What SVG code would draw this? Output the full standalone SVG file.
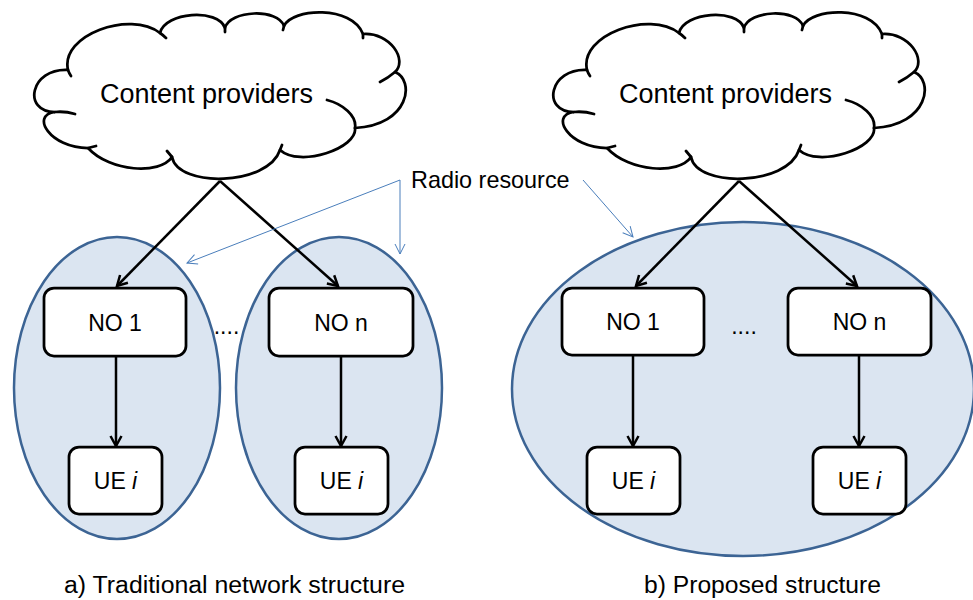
<svg xmlns="http://www.w3.org/2000/svg" width="973" height="600" viewBox="0 0 973 600">
<style>
text{font-family:"Liberation Sans",Arial,sans-serif;fill:#000}
.region{fill:#dbe5f1;stroke:#3c6494;stroke-width:2.5}
.cloud{fill:#fff;stroke:#000;stroke-width:2.75;stroke-linejoin:round}
.tail{fill:none;stroke:#000;stroke-width:2.75;stroke-linecap:round}
.box{fill:#fff;stroke:#000;stroke-width:2.75}
.conn{fill:none;stroke:#000;stroke-width:2.5}
.note{fill:none;stroke:#4a7ebb;stroke-width:1}
.lbl{font-size:23px;text-anchor:middle}
.title{font-size:27px;text-anchor:middle}
.cap{font-size:23px}
</style>
<defs>
<marker id="ah" viewBox="0 0 14 14" refX="12" refY="7" markerWidth="14" markerHeight="14" markerUnits="userSpaceOnUse" orient="auto">
<path d="M2,1.5 L12,7 L2,12.5" fill="none" stroke="#000" stroke-width="2.5"/>
</marker>
<marker id="bh" viewBox="0 0 12 12" refX="11" refY="6" markerWidth="12" markerHeight="12" markerUnits="userSpaceOnUse" orient="auto">
<path d="M1,1 L11,6 L1,11" fill="none" stroke="#4a7ebb" stroke-width="1"/>
</marker>
<g id="cloudShape">
<path class="cloud" d="M55,112 C22,112 30,68 68,70 C60,35 130,10 160,33 C165,12 218,8 225,28 C230,10 278,8 284,26 C292,8 352,5 363,34 C390,32 408,60 395,72 C415,80 410,125 355,128 C358,148 300,168 280,150 C268,186 178,188 172,157 C160,175 110,172 88,148 C50,148 30,115 55,112 Z"/>
<path class="tail" d="M55,112 Q65,111 75,114 M68,70 Q69,73 71,76 M160,33 Q163,35 166,38 M225,28 L225,32 M284,26 L283,30 M363,34 L363,38 M395,72 Q388,78 380,82 M355,128 C357,116 343,104 327,100 M280,150 L282,145 M172,157 L167,151 M88,148 L96,146"/>
</g>
</defs>

<g id="regions">
<ellipse id="region-a1" class="region" cx="117" cy="388" rx="103" ry="151"/>
<ellipse id="region-an" class="region" cx="339" cy="388" rx="103" ry="151"/>
<ellipse id="region-b" class="region" cx="743" cy="389" rx="231" ry="167"/>
</g>

<g id="cloud-a">
<use href="#cloudShape"/>
<text class="title" x="206.5" y="103">Content providers</text>
</g>
<g id="cloud-b">
<use href="#cloudShape" transform="translate(519,0)"/>
<text class="title" x="725.5" y="103">Content providers</text>
</g>

<g id="connectors">
<path class="conn" marker-end="url(#ah)" d="M220,181 L117,286"/>
<path class="conn" marker-end="url(#ah)" d="M220,181 L338,286"/>
<path class="conn" marker-end="url(#ah)" d="M116,356 L116,446"/>
<path class="conn" marker-end="url(#ah)" d="M341,356 L341,446"/>
<path class="conn" marker-end="url(#ah)" d="M739,181 L636,286"/>
<path class="conn" marker-end="url(#ah)" d="M739,181 L857,286"/>
<path class="conn" marker-end="url(#ah)" d="M633,355 L633,446"/>
<path class="conn" marker-end="url(#ah)" d="M859,355 L859,446"/>
<path class="note" marker-end="url(#bh)" d="M400,180 L187,263"/>
<path class="note" marker-end="url(#bh)" d="M400,180 L400,254"/>
<path class="note" marker-end="url(#bh)" d="M583,180 L633,237"/>
</g>

<g id="radio-label">
<text x="411" y="188" style="font-size:23.4px">Radio resource</text>
</g>

<g id="a-no1">
<rect class="box" x="44" y="288" width="142" height="68" rx="10"/>
<text class="lbl" x="115" y="331">NO 1</text>
</g>
<g id="a-non">
<rect class="box" x="269" y="288" width="144" height="68" rx="10"/>
<text class="lbl" x="341" y="331">NO n</text>
</g>
<g id="a-ue1">
<rect class="box" x="69" y="447" width="93" height="67" rx="10"/>
<text class="lbl" x="115.5" y="489">UE <tspan font-style="italic">i</tspan></text>
</g>
<g id="a-uen">
<rect class="box" x="295" y="447" width="93" height="67" rx="10"/>
<text class="lbl" x="341.5" y="489">UE <tspan font-style="italic">i</tspan></text>
</g>
<g id="a-dots"><text class="lbl" x="226.5" y="334">....</text></g>

<g id="b-no1">
<rect class="box" x="562" y="288" width="142" height="67" rx="10"/>
<text class="lbl" x="633" y="330">NO 1</text>
</g>
<g id="b-non">
<rect class="box" x="788" y="288" width="143" height="67" rx="10"/>
<text class="lbl" x="859.5" y="330">NO n</text>
</g>
<g id="b-ue1">
<rect class="box" x="587" y="447" width="93" height="67" rx="10"/>
<text class="lbl" x="633.5" y="489">UE <tspan font-style="italic">i</tspan></text>
</g>
<g id="b-uen">
<rect class="box" x="813" y="447" width="93" height="67" rx="10"/>
<text class="lbl" x="859.5" y="489">UE <tspan font-style="italic">i</tspan></text>
</g>
<g id="b-dots"><text class="lbl" x="744" y="334">....</text></g>

<g id="captions">
<text class="cap" x="64" y="593" textLength="341" lengthAdjust="spacingAndGlyphs">a) Traditional network structure</text>
<text class="cap" x="644" y="593" textLength="237" lengthAdjust="spacingAndGlyphs">b) Proposed structure</text>
</g>
</svg>
